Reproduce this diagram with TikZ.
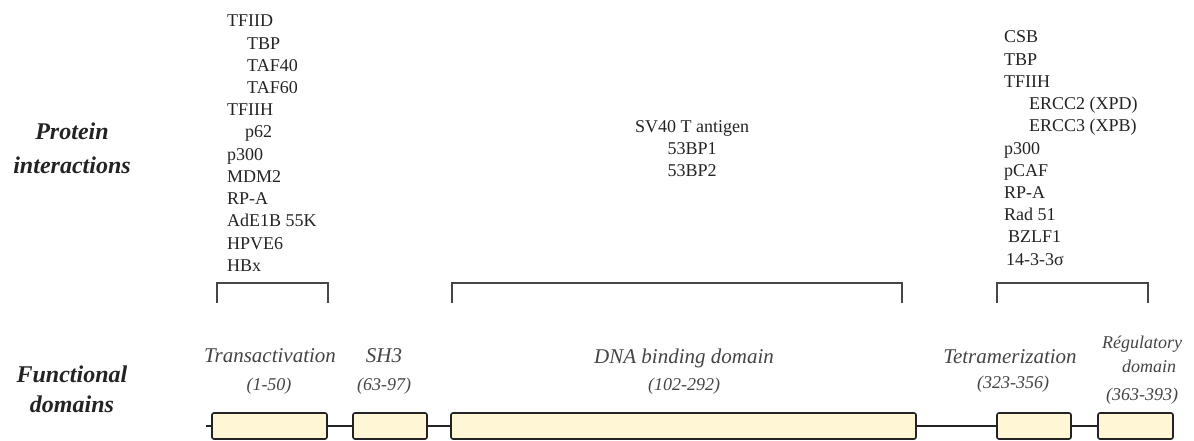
\documentclass[tikz,border=0pt]{standalone}
\usepackage{fontspec}
\setmainfont{Liberation Serif}
\usetikzlibrary{positioning}
\definecolor{inkdark}{RGB}{35,35,35}
\definecolor{linegrey}{RGB}{70,70,70}
\definecolor{domaincream}{RGB}{255,246,214}
\tikzset{
  listtext/.style={font=\fontsize{18}{22}\selectfont, text=inkdark, inner sep=0pt, anchor=base west},
  rowlabel/.style={font=\fontsize{24}{30}\selectfont\bfseries\itshape, text=inkdark, inner sep=0pt, anchor=base},
  domname/.style={font=\fontsize{21}{25}\selectfont\itshape, text=inkdark!85, inner sep=0pt, anchor=base},
  domrange/.style={font=\fontsize{18}{22}\selectfont\itshape, text=inkdark!85, inner sep=0pt, anchor=base},
  domainbox/.style={
    draw=inkdark,
    line width=1.6pt,
    rounded corners=2pt,
    fill=domaincream,
    minimum height=26pt,
    inner sep=0pt
  },
  link/.style={draw=inkdark, line width=1.6pt},
  bracket/.style={draw=linegrey, line width=1.2pt}
}
\begin{document}
\begin{tikzpicture}[x=1pt, y=-1pt]
  \useasboundingbox (0,0) rectangle (1194,441);

  % row titles
  \node[rowlabel] (protein) at (72,140) {Protein};
  \node[rowlabel] (interact) at (72,173) {interactions};
  \node[rowlabel] (functional) at (72,382) {Functional};
  \node[rowlabel] (domains) at (72,412) {domains};

  % partners of the transactivation domain
  \foreach \dx/\t [count=\i] in {0/TFIID, 20/TBP, 20/TAF40, 20/TAF60, 0/TFIIH, 18/p62,
      0/p300, 0/MDM2, 0/RP-A, 0/AdE1B 55K, 0/HPVE6, 0/HBx}
    \node[listtext] (tad\i) at (227+\dx, 27+22.2*\i-22.2) {\t};

  % partners of the DNA binding domain
  \foreach \t [count=\i] in {SV40 T antigen, 53BP1, 53BP2}
    \node[listtext, anchor=base] (dbd\i) at (692, 132+22.2*\i-22.2) {\t};

  % partners of the C-terminal part
  \foreach \dx/\t [count=\i] in {0/CSB, 0/TBP, 0/TFIIH, 25/{ERCC2 (XPD)}, 25/{ERCC3 (XPB)},
      0/p300, 0/pCAF, 0/RP-A, 0/Rad 51, 4/BZLF1, 2/14-3-3σ}
    \node[listtext] (ct\i) at (1004+\dx, 43+22.2*\i-22.2) {\t};

  % brackets
  \foreach \n/\xa/\xb in {tab/217/328, dbb/452/902, ctb/997/1148} {
    \coordinate (\n-l) at (\xa,303);
    \coordinate (\n-r) at (\xb,303);
    \draw[bracket] (\n-l) -- ++(0,-20) -| (\n-r);
  }

  % domain names
  \node[domname] (transname) at (270,362) {Transactivation};
  \node[domrange] (transrange) at (269,390) {(1-50)};
  \node[domname] (sh3name) at (384,362) {SH3};
  \node[domrange] (sh3range) at (384,390) {(63-97)};
  \node[domname] (dnaname) at (684,363) {DNA binding domain};
  \node[domrange] (dnarange) at (684,390) {(102-292)};
  \node[domname] (tetname) at (1010,363) {Tetramerization};
  \node[domrange] (tetrange) at (1013,388) {(323-356)};
  \node[domrange] (regname) at (1142,348) {Régulatory};
  \node[domrange] (regname2) at (1149,372) {domain};
  \node[domrange] (regrange) at (1142,400) {(363-393)};

  % domain boxes
  \node[domainbox, minimum width=115pt] (trans) at (269.5,426) {};
  \node[domainbox, minimum width=74pt] (sh3) at (390,426) {};
  \node[domainbox, minimum width=465pt] (dna) at (683.5,426) {};
  \node[domainbox, minimum width=74pt] (tetra) at (1034,426) {};
  \node[domainbox, minimum width=75pt] (reg) at (1135.5,426) {};

  \coordinate (nterm) at (206,426);
  \draw[link] (nterm) -- (trans);
  \draw[link] (trans) -- (sh3);
  \draw[link] (sh3) -- (dna);
  \draw[link] (dna) -- (tetra);
  \draw[link] (tetra) -- (reg);
\end{tikzpicture}
\end{document}
